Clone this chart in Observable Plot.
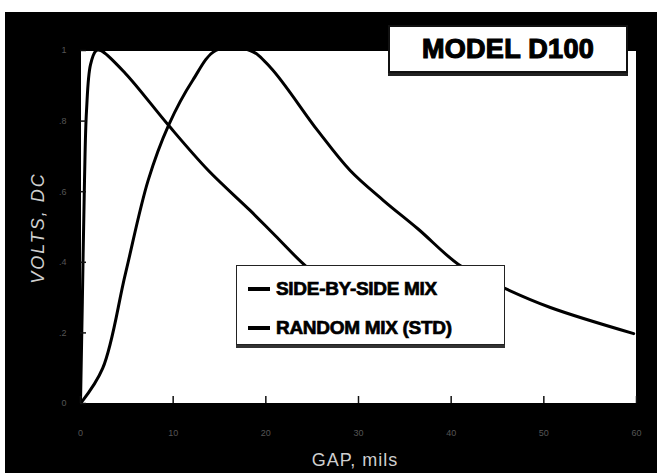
<!DOCTYPE html>
<html>
<head>
<meta charset="utf-8">
<script src="https://cdn.jsdelivr.net/npm/d3@7"></script>
<script src="https://cdn.jsdelivr.net/npm/@observablehq/plot@0.6"></script>
<style>
  html, body { margin: 0; padding: 0; background: white; }
  #wrap { position: relative; width: 657px; height: 473px; background: white; overflow: hidden; font-family: "Liberation Sans", Arial, sans-serif; }
  #chart { position: absolute; left: 5px; top: 12px; }
  .box { position: absolute; background: white; box-sizing: border-box; }
  #model { left: 388px; top: 25px; width: 240px; height: 48px; border: 2px solid #111; box-shadow: 0 3px 0 #222;
           font-weight: bold; font-size: 27px; text-align: center; line-height: 44px; color: #000; -webkit-text-stroke: 1.2px #000; letter-spacing: 0.3px; }
  #legend { left: 236px; top: 265px; width: 269px; height: 80px; border: 1.5px solid #222; box-shadow: 0 3px 0 #333; }
  .row { position: absolute; left: 11px; height: 24px; display: flex; align-items: center; font-weight: bold; font-size: 19px; color: #000; -webkit-text-stroke: 0.7px #000; letter-spacing: -0.3px; }
  .dash { display: inline-block; width: 22px; height: 4px; background: #000; margin-right: 6px; }
  .atitle { position: absolute; color: #cfcfcf; font-size: 18px; white-space: nowrap; }
</style>
</head>
<body>
<div id="wrap">
  <div id="chart"></div>
  <div id="model" class="box">MODEL D100</div>
  <div id="legend" class="box"></div>
  <div id="ytitle" class="atitle"></div>
  <div id="xtitle" class="atitle"></div>
</div>
<script>
// ---- data ----
const chartTitle = "MODEL D100";
const xTitle = "GAP, mils";
const yTitle = "VOLTS, DC";
const seriesNames = ["SIDE-BY-SIDE MIX", "RANDOM MIX (STD)"];
const xTicks = [0, 10, 20, 30, 40, 50, 60];
const yTicks = [0, 0.2, 0.4, 0.6, 0.8, 1];

const sideGap   = [0, 0.2, 0.43, 0.65, 1.08, 1.7, 2.2, 4.85, 9.5, 13.8, 18.3, 21, 24.5, 28, 32.4];
const sideVolts = [0, 0.29, 0.63, 0.83, 0.96, 1.0, 1.0, 0.935, 0.788, 0.66, 0.547, 0.476, 0.385, 0.32, 0.263];

const randGap   = [0, 2.4, 4.85, 7.3, 9.5, 12.1, 14.6, 18.3, 20.5, 25.6, 29.1, 32.7, 36.4, 41, 45.8, 50.7, 59.7];
const randVolts = [0, 0.1, 0.368, 0.632, 0.788, 0.915, 1.0, 1.0, 0.952, 0.773, 0.66, 0.575, 0.495, 0.39, 0.326, 0.272, 0.198];

const side = sideGap.map((g, i) => ({gap: g, volts: sideVolts[i]}));
const rand = randGap.map((g, i) => ({gap: g, volts: randVolts[i]}));

const chart = Plot.plot({
  width: 652,
  height: 461,
  marginLeft: 75,
  marginRight: 21,
  marginTop: 38,
  marginBottom: 70,
  x: {domain: [0, 60]},
  y: {domain: [0, 1]},
  style: {background: "black", color: "#cfcfcf", fontFamily: "Liberation Sans, Arial, sans-serif"},
  marks: [
    Plot.frame({fill: "white", stroke: "black"}),
    Plot.line(side, {x: "gap", y: "volts", stroke: "#000", strokeWidth: 3, curve: "catmull-rom", clip: true}),
    Plot.line(rand, {x: "gap", y: "volts", stroke: "#000", strokeWidth: 3, curve: "catmull-rom", clip: true}),
    Plot.axisX({ticks: xTicks, tickSize: -7, stroke: "#111", strokeWidth: 1.5, tickFormat: () => "", label: null}),
    Plot.axisX({ticks: xTicks, tickSize: 0, tickPadding: 26, fill: "#555", fontSize: 9, tickFormat: d3.format("d"), label: null}),
    Plot.axisY({ticks: yTicks, tickSize: -6, stroke: "#111", strokeWidth: 1.5, tickFormat: () => "", label: null}),
    Plot.axisY({ticks: yTicks, tickSize: 0, tickPadding: 14, fill: "#555", fontSize: 9, tickFormat: d => d === 0 ? "0" : d3.format(".1f")(d).replace(/^0/, "").replace(/^1\.0$/, "1"), label: null})
  ]
});
document.getElementById("chart").appendChild(chart);

const legend = document.getElementById("legend");
seriesNames.forEach((n, i) => {
  const r = document.createElement("div");
  r.className = "row";
  r.style.top = (11 + i * 39) + "px";
  r.innerHTML = '<span class="dash"></span>';
  r.appendChild(document.createTextNode(n));
  legend.appendChild(r);
});

const yt = document.getElementById("ytitle");
yt.textContent = yTitle;
yt.style.cssText += "left:38px; top:228px; transform: translate(-50%,-50%) rotate(-90deg); font-style: italic; letter-spacing: 2px;";
const xt = document.getElementById("xtitle");
xt.textContent = xTitle;
xt.style.cssText += "left:355px; top:460px; transform: translate(-50%,-50%); letter-spacing: 1px;";
</script>
</body>
</html>
